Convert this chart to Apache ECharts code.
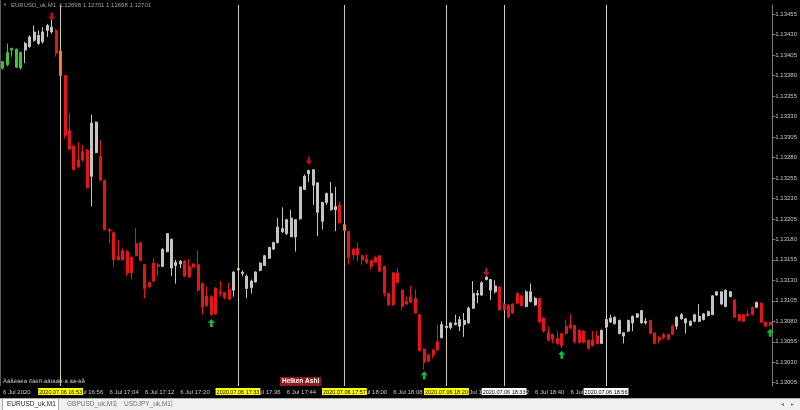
<!DOCTYPE html>
<html><head><meta charset="utf-8">
<script src="https://cdn.jsdelivr.net/npm/echarts@6/dist/echarts.min.js"></script>
<style>html,body{margin:0;padding:0;background:#000}#c{width:800px;height:410px}</style>
</head><body><div id="c"></div>
<script>
// one-minute bars, 16:40 .. 19:33
const categories = [];
for (let i = 0; i < 174; i++) {
  const m = 16 * 60 + 40 + i;
  categories.push(String(Math.floor(m / 60)).padStart(2, '0') + ':' + String(m % 60).padStart(2, '0'));
}
const openP = [
1.13389,1.13393,1.13411,1.13390,1.13389,1.13411,1.13415,1.13423,1.13419,1.13421,
1.13435,1.13433,1.13435,1.13410,1.13380,1.13313,1.13294,1.13277,1.13287,1.13289,
1.13257,1.13286,1.13281,1.13252,1.13192,1.13188,1.13159,1.13166,1.13165,1.13158,
1.13175,1.13176,1.13149,1.13127,1.13151,1.13149,1.13147,1.13165,1.13145,1.13148,
1.13150,1.13153,1.13147,1.13150,1.13149,1.13126,1.13111,1.13110,1.13120,1.13116,
1.13115,1.13119,1.13118,1.13143,1.13138,1.13120,1.13121,1.13128,1.13142,1.13148,
1.13157,1.13168,1.13176,1.13189,1.13187,1.13183,1.13183,1.13205,1.13241,1.13260,
1.13246,1.13213,1.13202,1.13225,1.13216,1.13216,1.13222,1.13198,1.13190,1.13168,
1.13169,1.13160,1.13156,1.13154,1.13158,1.13160,1.13147,1.13114,1.13139,1.13139,
1.13118,1.13104,1.13110,1.13108,1.13088,1.13046,1.13039,1.13045,1.13055,1.13060,
1.13072,1.13072,1.13076,1.13074,1.13076,1.13078,1.13096,1.13112,1.13112,1.13131,
1.13118,1.13116,1.13122,1.13101,1.13100,1.13101,1.13114,1.13111,1.13098,1.13104,
1.13100,1.13108,1.13084,1.13066,1.13064,1.13059,1.13065,1.13074,1.13076,1.13075,
1.13069,1.13068,1.13057,1.13057,1.13062,1.13053,1.13073,1.13079,1.13077,1.13065,
1.13062,1.13068,1.13078,1.13085,1.13078,1.13078,1.13081,1.13066,1.13060,1.13064,
1.13064,1.13074,1.13074,1.13083,1.13078,1.13075,1.13080,1.13080,1.13082,1.13087,
1.13088,1.13112,1.13101,1.13098,1.13110,1.13106,1.13088,1.13088,1.13089,1.13097,
1.13097,1.13102,1.13079,1.13079];
const closeP = [
1.13397,1.13408,1.13413,1.13412,1.13408,1.13419,1.13427,1.13433,1.13429,1.13433,
1.13441,1.13439,1.13407,1.13380,1.13307,1.13290,1.13265,1.13269,1.13277,1.13243,
1.13322,1.13323,1.13252,1.13192,1.13190,1.13155,1.13155,1.13155,1.13139,1.13139,
1.13160,1.13154,1.13120,1.13122,1.13129,1.13147,1.13168,1.13187,1.13180,1.13152,
1.13153,1.13135,1.13134,1.13146,1.13118,1.13097,1.13099,1.13088,1.13089,1.13114,
1.13109,1.13107,1.13140,1.13144,1.13140,1.13135,1.13129,1.13140,1.13151,1.13160,
1.13170,1.13176,1.13195,1.13193,1.13204,1.13206,1.13204,1.13244,1.13257,1.13264,
1.13265,1.13249,1.13225,1.13236,1.13236,1.13220,1.13200,1.13191,1.13158,1.13161,
1.13161,1.13155,1.13152,1.13147,1.13152,1.13141,1.13114,1.13100,1.13100,1.13127,
1.13098,1.13101,1.13103,1.13090,1.13044,1.13030,1.13031,1.13039,1.13045,1.13076,
1.13074,1.13078,1.13078,1.13082,1.13081,1.13096,1.13114,1.13114,1.13127,1.13134,
1.13131,1.13123,1.13094,1.13094,1.13085,1.13090,1.13102,1.13099,1.13116,1.13116,
1.13108,1.13079,1.13068,1.13057,1.13058,1.13053,1.13050,1.13065,1.13072,1.13055,
1.13054,1.13054,1.13047,1.13050,1.13053,1.13069,1.13082,1.13084,1.13085,1.13081,
1.13066,1.13081,1.13086,1.13089,1.13093,1.13080,1.13065,1.13053,1.13057,1.13060,
1.13058,1.13064,1.13085,1.13088,1.13083,1.13080,1.13088,1.13086,1.13089,1.13092,
1.13111,1.13116,1.13116,1.13118,1.13116,1.13085,1.13081,1.13080,1.13087,1.13088,
1.13103,1.13079,1.13074,1.13076];
const lowP = [
1.13387,1.13391,1.13403,1.13389,1.13387,1.13395,1.13414,1.13421,1.13417,1.13419,
1.13427,1.13431,1.13403,1.13380,1.13303,1.13289,1.13264,1.13267,1.13275,1.13242,
1.13220,1.13285,1.13252,1.13191,1.13175,1.13147,1.13154,1.13154,1.13135,1.13131,
1.13159,1.13153,1.13108,1.13120,1.13127,1.13135,1.13146,1.13164,1.13135,1.13126,
1.13145,1.13134,1.13133,1.13145,1.13116,1.13088,1.13098,1.13086,1.13088,1.13110,
1.13107,1.13106,1.13110,1.13142,1.13135,1.13108,1.13114,1.13127,1.13141,1.13148,
1.13156,1.13167,1.13175,1.13188,1.13185,1.13183,1.13165,1.13204,1.13240,1.13250,
1.13222,1.13184,1.13192,1.13222,1.13215,1.13190,1.13200,1.13190,1.13149,1.13155,
1.13153,1.13149,1.13150,1.13143,1.13151,1.13140,1.13110,1.13099,1.13099,1.13126,
1.13094,1.13100,1.13102,1.13089,1.13043,1.13021,1.13030,1.13035,1.13044,1.13059,
1.13070,1.13070,1.13075,1.13068,1.13061,1.13077,1.13095,1.13102,1.13111,1.13130,
1.13106,1.13114,1.13093,1.13093,1.13084,1.13089,1.13101,1.13098,1.13097,1.13103,
1.13099,1.13078,1.13066,1.13055,1.13053,1.13051,1.13047,1.13064,1.13070,1.13053,
1.13053,1.13053,1.13045,1.13049,1.13053,1.13053,1.13072,1.13078,1.13076,1.13064,
1.13053,1.13067,1.13068,1.13084,1.13077,1.13076,1.13064,1.13053,1.13053,1.13058,
1.13057,1.13063,1.13070,1.13082,1.13065,1.13074,1.13079,1.13079,1.13081,1.13086,
1.13088,1.13111,1.13100,1.13097,1.13110,1.13084,1.13080,1.13079,1.13086,1.13087,
1.13096,1.13078,1.13073,1.13074];
const highP = [
1.13397,1.13419,1.13414,1.13413,1.13409,1.13421,1.13429,1.13441,1.13435,1.13439,
1.13443,1.13448,1.13437,1.13411,1.13380,1.13334,1.13295,1.13299,1.13295,1.13290,
1.13332,1.13324,1.13301,1.13253,1.13194,1.13190,1.13179,1.13169,1.13167,1.13159,
1.13194,1.13177,1.13150,1.13129,1.13157,1.13151,1.13169,1.13187,1.13181,1.13155,
1.13155,1.13155,1.13156,1.13151,1.13167,1.13127,1.13122,1.13112,1.13122,1.13129,
1.13116,1.13127,1.13141,1.13145,1.13142,1.13137,1.13131,1.13141,1.13152,1.13161,
1.13171,1.13177,1.13206,1.13219,1.13205,1.13216,1.13205,1.13244,1.13259,1.13265,
1.13265,1.13249,1.13226,1.13237,1.13250,1.13244,1.13226,1.13199,1.13190,1.13169,
1.13176,1.13161,1.13162,1.13155,1.13160,1.13161,1.13148,1.13115,1.13140,1.13145,
1.13119,1.13110,1.13123,1.13119,1.13089,1.13047,1.13040,1.13046,1.13076,1.13080,
1.13075,1.13079,1.13088,1.13086,1.13090,1.13098,1.13129,1.13118,1.13129,1.13135,
1.13131,1.13130,1.13122,1.13102,1.13101,1.13102,1.13116,1.13112,1.13118,1.13126,
1.13110,1.13109,1.13085,1.13074,1.13065,1.13068,1.13066,1.13082,1.13088,1.13075,
1.13070,1.13069,1.13057,1.13068,1.13068,1.13070,1.13083,1.13088,1.13086,1.13082,
1.13066,1.13082,1.13087,1.13090,1.13094,1.13084,1.13082,1.13066,1.13062,1.13066,
1.13064,1.13076,1.13086,1.13090,1.13084,1.13081,1.13089,1.13101,1.13090,1.13093,
1.13112,1.13117,1.13116,1.13119,1.13117,1.13107,1.13089,1.13089,1.13093,1.13098,
1.13104,1.13103,1.13079,1.13079];
const greenBars = [0, 1, 2, 3, 4];
const orangeBars = [13, 77];
const yTicks = [1.13005,1.13030,1.13055,1.13080,1.13105,1.13130,1.13155,1.13180,1.13205,1.13230,
                1.13255,1.13280,1.13305,1.13330,1.13355,1.13380,1.13405,1.13430,1.13455];
const markedTimes = [
  {t: '16:53', label: '2020.07.06 16:53', bg: '#ffff00', line: '#cfcba0'},
  {t: '17:33', label: '2020.07.06 17:33', bg: '#ffff00', line: '#cfcba0'},
  {t: '17:57', label: '2020.07.06 17:57', bg: '#ffff00', line: '#cfcba0'},
  {t: '18:20', label: '2020.07.06 18:20', bg: '#ffff00', line: '#cfcba0'},
  {t: '18:33', label: '2020.07.06 18:33', bg: '#ffffff', line: '#cccccc'},
  {t: '18:56', label: '2020.07.06 18:56', bg: '#ffffff', line: '#cccccc'}
];
const downArrows = [['16:51', 1.13452], ['17:49', 1.13276], ['18:29', 1.13140]];
const upArrows = [['17:27', 1.13078], ['18:15', 1.13014], ['18:46', 1.13039], ['19:33', 1.13066]];

const RED = '#e8141a', GREY = '#c4c4c4', GREEN = '#3cc43c', ORANGE = '#ff7a22';
const candleData = categories.map((c, i) => {
  const v = [openP[i], closeP[i], lowP[i], highP[i]];
  let col = null;
  if (greenBars.includes(i)) col = GREEN;
  if (orangeBars.includes(i)) col = ORANGE;
  return col ? {value: v, itemStyle: {color: col, color0: col, borderColor: col, borderColor0: col}} : v;
});

const chart = echarts.init(document.getElementById('c'), null, {renderer: 'canvas'});
const FONT = 'Liberation Sans';
chart.setOption({
  backgroundColor: '#000',
  animation: false,
  grid: {left: 0, right: 27, top: 5, bottom: 24},
  xAxis: {
    type: 'category', data: categories, boundaryGap: true,
    axisLine: {show: false}, axisTick: {show: false}, splitLine: {show: false},
    axisLabel: {
      show: true, fontSize: 6, fontFamily: FONT, color: '#c8c8c8', margin: 3, align: 'left',
      interval: (idx) => idx % 8 === 0 && idx <= 128,
      formatter: (v, idx) => idx === 0 ? '6 Jul 2020' : '6 Jul ' + v
    }
  },
  yAxis: {
    type: 'value', position: 'right', min: 1.13001, max: 1.13466, scale: true,
    splitLine: {show: false},
    axisLine: {show: true, lineStyle: {color: '#7c7c7c', width: 1}},
    axisTick: {show: true, inside: false, length: 3, customValues: yTicks, lineStyle: {color: '#7c7c7c'}},
    axisLabel: {customValues: yTicks, fontSize: 6, fontFamily: FONT, color: '#c8c8c8', margin: 3,
      formatter: (v) => v.toFixed(5)}
  },
  series: [
    {
      type: 'candlestick', data: candleData, barWidth: 2.5, z: 2,
      itemStyle: {color: GREY, color0: RED, borderColor: GREY, borderColor0: RED, borderWidth: 1},
      markLine: {
        silent: true, symbol: ['none', 'none'], animation: false, z: 1,
        data: markedTimes.map(m => ({
          xAxis: m.t,
          lineStyle: {color: m.line, width: 1, type: 'solid'},
          label: {show: true, position: 'start', distance: 2, formatter: m.label, fontSize: 5.5,
            fontFamily: FONT, color: '#000', backgroundColor: m.bg, padding: [1, 1, 0, 1]}
        }))
      }
    },
    {
      type: 'scatter', data: downArrows, z: 3, silent: true,
      symbol: 'path://M-1.5,-4 L1.5,-4 L1.5,0 L4,0 L0,4 L-4,0 L-1.5,0 Z', symbolSize: [7, 8],
      itemStyle: {color: RED}
    },
    {
      type: 'scatter', data: upArrows, z: 3, silent: true,
      symbol: 'path://M-1.5,4 L1.5,4 L1.5,0 L4,0 L0,-4 L-4,0 L-1.5,0 Z', symbolSize: [7, 8],
      itemStyle: {color: '#19e840'}
    }
  ],
  graphic: [
    {type: 'line', silent: true, shape: {x1: 0.5, y1: 0, x2: 0.5, y2: 386}, style: {stroke: '#5c5c5c', lineWidth: 1}},
    {type: 'text', left: 3, top: 3, silent: true, style: {text: '▼', fontSize: 4, fill: '#9a9a9a'}},
    {type: 'text', left: 11, top: 2, silent: true,
      style: {text: 'EURUSD_uk,M1  1.12698 1.12701 1.12698 1.12701', fontSize: 6, fontFamily: FONT, fill: '#a0a0a0'}},
    {type: 'text', left: 3, top: 378, silent: true,
      style: {text: 'Àâåêàëà ïîàëîî-àâïàáîí-à àà-àå', fontSize: 6, fontFamily: FONT, fill: '#c8c8c8'}},
    {type: 'text', left: 280, top: 377, silent: true,
      style: {text: 'Heiken Ashi', fontSize: 6.5, fontWeight: 'bold', fontFamily: FONT, fill: '#ffffff',
        backgroundColor: '#8e1c1c', padding: [1, 2, 1, 2]}},
    {type: 'rect', silent: true, shape: {x: 0, y: 398, width: 800, height: 12}, style: {fill: '#f0f0f0'}},
    {type: 'line', silent: true, shape: {x1: 0, y1: 398.5, x2: 800, y2: 398.5}, style: {stroke: '#a8a8a8', lineWidth: 1}},
    {type: 'rect', silent: true, shape: {x: 2.5, y: 398.5, width: 56, height: 12}, style: {fill: '#ffffff', stroke: '#a8a8a8', lineWidth: 1}},
    {type: 'text', left: 7, top: 401, silent: true, style: {text: 'EURUSD_uk,M1', fontSize: 6.5, fontFamily: FONT, fill: '#202020'}},
    {type: 'text', left: 67, top: 401, silent: true, style: {text: 'GBPUSD_uk,M1', fontSize: 6.5, fontFamily: FONT, fill: '#707070'}},
    {type: 'text', left: 115, top: 400, silent: true, style: {text: '|', fontSize: 7, fontFamily: FONT, fill: '#909090'}},
    {type: 'text', left: 124, top: 401, silent: true, style: {text: 'USDJPY_uk,M1', fontSize: 6.5, fontFamily: FONT, fill: '#707070'}},
    {type: 'text', left: 171, top: 400, silent: true, style: {text: '|', fontSize: 7, fontFamily: FONT, fill: '#909090'}},
    {type: 'text', left: 781, top: 401, silent: true, style: {text: '◂', fontSize: 6, fill: '#808080'}},
    {type: 'text', left: 791, top: 401, silent: true, style: {text: '▸', fontSize: 6, fill: '#808080'}}
  ]
});
</script>
</body></html>
